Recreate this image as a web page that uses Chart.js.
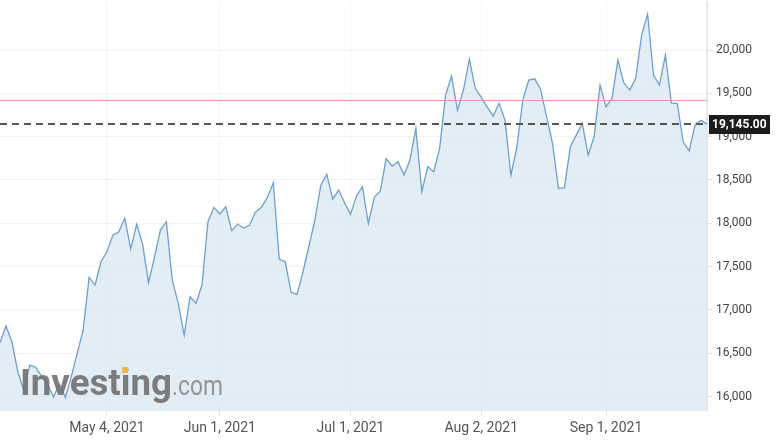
<!DOCTYPE html>
<html>
<head>
<meta charset="utf-8">
<script src="https://cdn.jsdelivr.net/npm/chart.js@4/dist/chart.umd.min.js"></script>
<style>
  html, body { margin: 0; padding: 0; background: #fff; }
  canvas { display: block; }
</style>
</head>
<body>
<canvas id="priceChart" width="776" height="445"></canvas>
<script>
// trading days shown on the chart
const dates = [
    'Apr 7, 2021', 'Apr 8, 2021', 'Apr 9, 2021', 'Apr 12, 2021', 'Apr 13, 2021', 'Apr 14, 2021', 'Apr 15, 2021', 'Apr 16, 2021',
    'Apr 19, 2021', 'Apr 20, 2021', 'Apr 21, 2021', 'Apr 22, 2021', 'Apr 23, 2021', 'Apr 26, 2021', 'Apr 27, 2021', 'Apr 28, 2021',
    'Apr 29, 2021', 'Apr 30, 2021',
    'May 4, 2021', 'May 5, 2021', 'May 6, 2021', 'May 7, 2021', 'May 10, 2021', 'May 11, 2021', 'May 12, 2021', 'May 13, 2021',
    'May 14, 2021', 'May 17, 2021', 'May 18, 2021', 'May 19, 2021', 'May 20, 2021', 'May 21, 2021', 'May 24, 2021', 'May 25, 2021',
    'May 26, 2021', 'May 27, 2021', 'May 28, 2021',
    'Jun 1, 2021', 'Jun 2, 2021', 'Jun 3, 2021', 'Jun 4, 2021', 'Jun 7, 2021', 'Jun 8, 2021', 'Jun 9, 2021', 'Jun 10, 2021',
    'Jun 11, 2021', 'Jun 14, 2021', 'Jun 15, 2021', 'Jun 16, 2021', 'Jun 17, 2021', 'Jun 18, 2021', 'Jun 21, 2021', 'Jun 22, 2021',
    'Jun 23, 2021', 'Jun 24, 2021', 'Jun 25, 2021', 'Jun 28, 2021', 'Jun 29, 2021', 'Jun 30, 2021',
    'Jul 1, 2021', 'Jul 2, 2021', 'Jul 5, 2021', 'Jul 6, 2021', 'Jul 7, 2021', 'Jul 8, 2021', 'Jul 9, 2021', 'Jul 12, 2021',
    'Jul 13, 2021', 'Jul 14, 2021', 'Jul 15, 2021', 'Jul 16, 2021', 'Jul 19, 2021', 'Jul 20, 2021', 'Jul 21, 2021', 'Jul 22, 2021',
    'Jul 23, 2021', 'Jul 26, 2021', 'Jul 27, 2021', 'Jul 28, 2021', 'Jul 29, 2021', 'Jul 30, 2021',
    'Aug 2, 2021', 'Aug 3, 2021', 'Aug 4, 2021', 'Aug 5, 2021', 'Aug 6, 2021', 'Aug 9, 2021', 'Aug 10, 2021', 'Aug 11, 2021',
    'Aug 12, 2021', 'Aug 13, 2021', 'Aug 16, 2021', 'Aug 17, 2021', 'Aug 18, 2021', 'Aug 19, 2021', 'Aug 20, 2021', 'Aug 23, 2021',
    'Aug 24, 2021', 'Aug 25, 2021', 'Aug 26, 2021', 'Aug 27, 2021', 'Aug 31, 2021',
    'Sep 1, 2021', 'Sep 2, 2021', 'Sep 3, 2021', 'Sep 6, 2021', 'Sep 7, 2021', 'Sep 8, 2021', 'Sep 9, 2021', 'Sep 10, 2021',
    'Sep 13, 2021', 'Sep 14, 2021', 'Sep 15, 2021', 'Sep 16, 2021', 'Sep 17, 2021', 'Sep 20, 2021', 'Sep 21, 2021', 'Sep 22, 2021',
    'Sep 23, 2021', 'Sep 24, 2021'
];

const closes = [
    16620, 16815, 16633, 16286, 16075, 16364, 16337, 16237, 16144, 15994,
    16144, 15991, 16229, 16502, 16768, 17376, 17287, 17556, 17671, 17864,
    17902, 18060, 17703, 17988, 17760, 17314, 17607, 17922, 18018, 17345,
    17076, 16710, 17152, 17076, 17287, 18018, 18184, 18107, 18191, 17914,
    17991, 17942, 17980, 18130, 18184, 18299, 18468, 17584, 17556, 17203,
    17180, 17441, 17737, 18037, 18441, 18565, 18280, 18384, 18237, 18103,
    18314, 18422, 17999, 18299, 18372, 18747, 18661, 18710, 18557, 18730,
    19096, 18364, 18653, 18595, 18865, 19480, 19700, 19307, 19538, 19892,
    19558, 19454, 19345, 19238, 19384, 19192, 18557, 18883, 19423, 19653,
    19668, 19546, 19230, 18923, 18403, 18410, 18883, 19018, 19154, 18788,
    18999, 19596, 19345, 19442, 19884, 19622, 19538, 19673, 20173, 20415,
    19711, 19596, 19942, 19391, 19382, 18938, 18837, 19140, 19188, 19145
];

const xTickDates = ['May 4, 2021', 'Jun 1, 2021', 'Jul 1, 2021', 'Aug 2, 2021', 'Sep 1, 2021'];
const yTicks = [16000, 16500, 17000, 17500, 18000, 18500, 19000, 19500, 20000];
const lastPrice = 19145;
const refLevel = 19425;

const levelLines = {
    id: 'levelLines',
    afterDatasetsDraw(chart) {
        const { ctx, chartArea, scales: { y } } = chart;
        ctx.save();
        // red reference line
        const ry = Math.round(y.getPixelForValue(refLevel)) + 0.5;
        ctx.strokeStyle = '#f39999';
        ctx.lineWidth = 1;
        ctx.beginPath();
        ctx.moveTo(chartArea.left, ry);
        ctx.lineTo(chartArea.right, ry);
        ctx.stroke();
        // dashed last price line
        const py = Math.round(y.getPixelForValue(lastPrice));
        ctx.strokeStyle = '#555';
        ctx.lineWidth = 2;
        ctx.setLineDash([7, 5]);
        ctx.beginPath();
        ctx.moveTo(chartArea.left, py);
        ctx.lineTo(chartArea.right, py);
        ctx.stroke();
        ctx.restore();
    },
    afterDraw(chart) {
        const { ctx, chartArea, scales: { y } } = chart;
        const py = Math.round(y.getPixelForValue(lastPrice));
        ctx.save();
        ctx.fillStyle = '#1c1c1c';
        ctx.fillRect(chartArea.right + 2, py - 9, 61, 19);
        ctx.fillStyle = '#fff';
        ctx.font = 'bold 12px Roboto, sans-serif';
        ctx.textAlign = 'left';
        ctx.textBaseline = 'middle';
        ctx.fillText(lastPrice.toLocaleString('en-US', { minimumFractionDigits: 2 }), chartArea.right + 5, py + 1);
        ctx.restore();
    }
};

// "Investing.com" watermark
const watermark = {
    id: 'watermark',
    afterDatasetsDraw(chart) {
        const { ctx } = chart;
        ctx.save();
        ctx.textBaseline = 'alphabetic';
        ctx.textAlign = 'left';

        ctx.font = 'bold 36px Roboto, sans-serif';
        let w = ctx.measureText('Investing').width;
        ctx.save();
        ctx.translate(20, 395);
        ctx.scale(152 / w, 1);
        ctx.fillStyle = 'rgba(112, 112, 112, 0.9)';
        ctx.fillText('Investing', 0, 0);
        ctx.restore();

        ctx.font = '28px Roboto, sans-serif';
        w = ctx.measureText('.com').width;
        ctx.save();
        ctx.translate(172, 395);
        ctx.scale(51 / w, 1);
        ctx.fillStyle = 'rgba(140, 140, 140, 0.9)';
        ctx.fillText('.com', 0, 0);
        ctx.restore();

        ctx.fillStyle = '#f5b942';
        ctx.fillRect(122, 367, 6, 6);
        ctx.restore();
    }
};

new Chart(document.getElementById('priceChart'), {
    type: 'line',
    data: {
        labels: dates,
        datasets: [{
            data: closes,
            borderColor: '#6f9fcc',
            borderWidth: 1.3,
            backgroundColor: 'rgba(216, 230, 243, 0.72)',
            fill: 'start',
            pointRadius: 0,
            tension: 0
        }]
    },
    options: {
        responsive: false,
        animation: false,
        layout: { padding: { top: 2 } },
        plugins: {
            legend: { display: false },
            tooltip: { enabled: false }
        },
        scales: {
            x: {
                offset: false,
                border: { display: false },
                grid: { color: '#f2f4f6', tickLength: 5, tickColor: '#e2e2e2' },
                ticks: {
                    autoSkip: false,
                    maxRotation: 0,
                    padding: 4,
                    color: '#555',
                    font: { family: 'Roboto', size: 14 },
                    callback: (v) => dates[v]
                },
                afterBuildTicks(scale) {
                    scale.ticks = xTickDates.map(d => ({ value: dates.indexOf(d) }));
                },
                afterFit(scale) { scale.height = 34; }
            },
            y: {
                position: 'right',
                min: 15833,
                max: 20555,
                border: { color: '#e8e8e8', width: 2 },
                grid: { color: '#f3f3f3', tickLength: 5, tickColor: '#e2e2e2' },
                ticks: {
                    padding: 4,
                    color: '#444',
                    font: { family: 'Roboto', size: 12 },
                    callback: (v) => v.toLocaleString('en-US')
                },
                afterBuildTicks(scale) {
                    scale.ticks = yTicks.map(v => ({ value: v }));
                },
                afterFit(scale) {
                    scale.width = 69;
                    scale.paddingTop = 0;
                    scale.paddingBottom = 0;
                }
            }
        }
    },
    plugins: [levelLines, watermark]
});
</script>
</body>
</html>
